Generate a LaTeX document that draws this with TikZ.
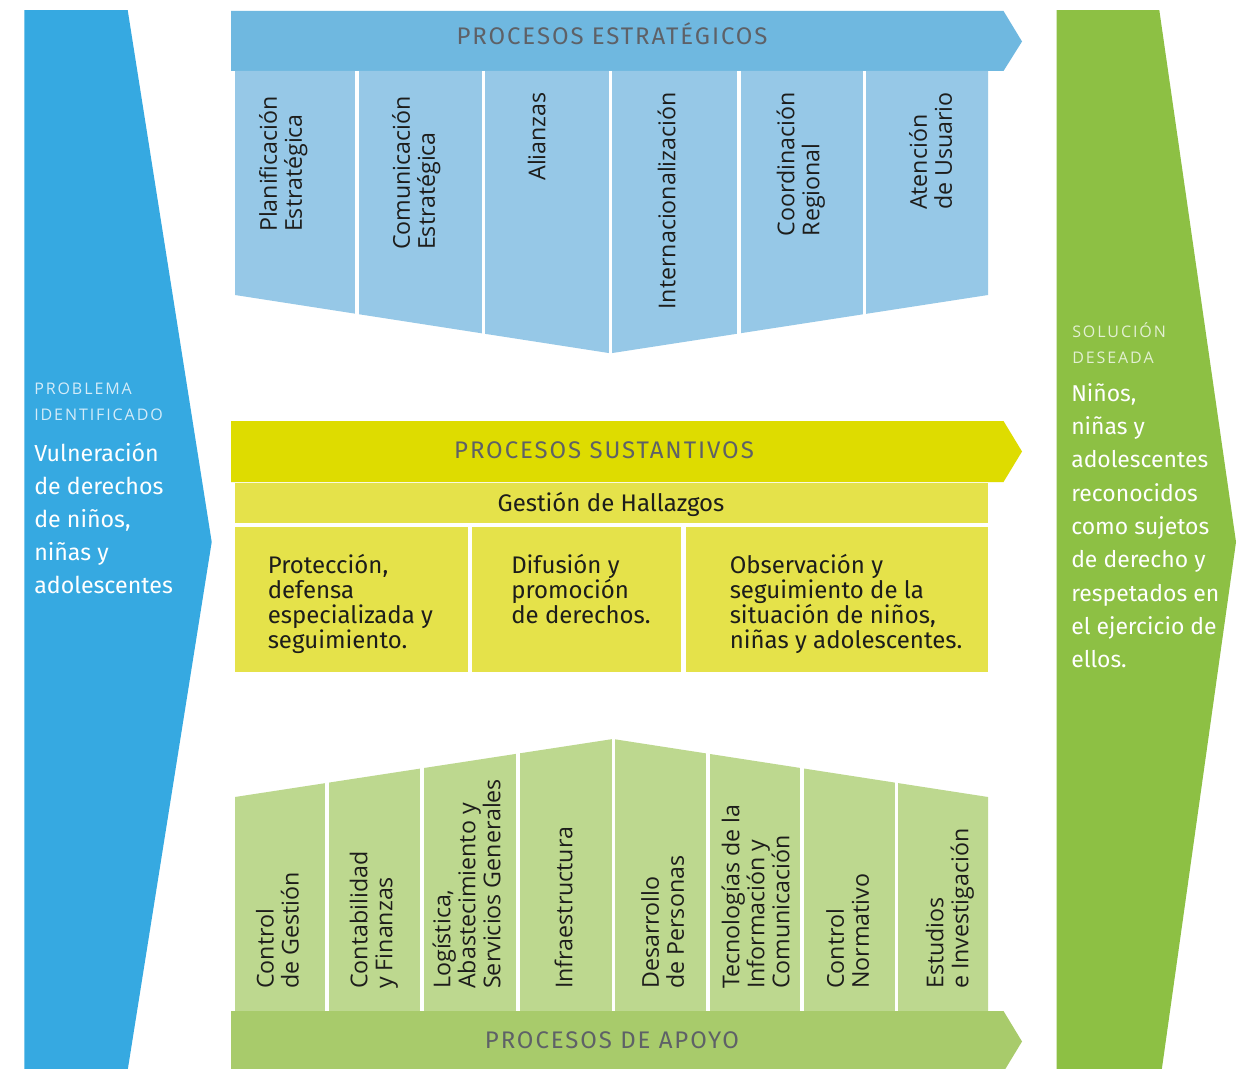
\documentclass[tikz,border=0pt]{standalone}
\usepackage{fontspec}
\setmainfont{Fira Sans}
\newfontfamily\colfont{Open Sans}
\newfontfamily\labfont[LetterSpace=12]{Open Sans}
\newfontfamily\titlefont[LetterSpace=8]{Fira Sans}
\definecolor{leftblue}{HTML}{36A9E1}
\definecolor{rightgreen}{HTML}{8DC044}
\definecolor{bannerblue}{HTML}{6FB8E0}
\definecolor{colblue}{HTML}{96C8E7}
\definecolor{banneryellow}{HTML}{DEDC00}
\definecolor{boxyellow}{HTML}{E5E24A}
\definecolor{bannergreen}{HTML}{A8CB6B}
\definecolor{colgreen}{HTML}{BDD88F}
\definecolor{titlegray}{HTML}{5E6167}
\definecolor{darktxt}{HTML}{1D1D1B}
\definecolor{lablight}{HTML}{D4ECF9}
\definecolor{labgreen}{HTML}{E3F0D3}
\begin{document}
\begin{tikzpicture}[x=0.75pt,y=-0.75pt,
  coltxt/.style={font=\colfont\fontsize{17.4}{18.75}\selectfont, text=darktxt, inner sep=0pt, align=left, rotate=90},
  titletxt/.style={font=\titlefont\fontsize{18}{20}\selectfont, text=titlegray, inner sep=0pt},
  boxtxt/.style={font=\fontsize{18}{18.75}\selectfont, text=darktxt, inner sep=0pt, align=left},
  sidetxt/.style={inner sep=0pt, align=left},
  gap/.style={draw=white, line width=2.8pt}]
\useasboundingbox (0,0) rectangle (1255,1069);
\fill[white] (0,0) rectangle (1255,1069);

% side arrows
\fill[leftblue] (24.3,10.2) -- (127.7,10.2) -- (211.7,542) -- (127.7,1070) -- (24.3,1070) -- cycle;
\fill[rightgreen] (1056.7,10.2) -- (1159.3,10.2) -- (1236,542) -- (1161.7,1070) -- (1056.7,1070) -- cycle;

% strategic
\fill[bannerblue] (231,11) -- (1003.5,11) -- (1022,41.5) -- (1003.5,71) -- (231,71) -- cycle;
\fill[colblue] (235,71) -- (988,71) -- (988,295) -- (610.5,353.3) -- (235,295) -- cycle;
\foreach \g in {357,483.4,610.5,738.9,864.4} \draw[gap] (\g,71) -- (\g,362);

% substantive
\fill[banneryellow] (231,421) -- (1003.5,421) -- (1022,451.5) -- (1003.5,482) -- (231,482) -- cycle;
\fill[boxyellow] (235,483) rectangle (988,522.7);
\fill[boxyellow] (235,526.7) rectangle (467.8,671.7);
\fill[boxyellow] (471.6,526.7) rectangle (681.2,671.7);
\fill[boxyellow] (685.5,526.7) rectangle (988,671.7);

% support
\fill[colgreen] (235,797) -- (613,739) -- (988,797) -- (988,1011) -- (235,1011) -- cycle;
\foreach \g in {326.7,421.8,518.2,613.4,708.2,801.8,896.6} \draw[gap] (\g,730) -- (\g,1011);
\fill[bannergreen] (231,1011) -- (1003.5,1011) -- (1022,1041.5) -- (1003.5,1072) -- (231,1072) -- cycle;

% titles
\node[titletxt, anchor=base] (tEst) at (612,45) {PROCESOS ESTRATÉGICOS};
\node[titletxt, anchor=base] (tSus) at (604,458.3) {PROCESOS SUSTANTIVOS};
\node[titletxt, anchor=base] (tApo) at (612,1048.3) {PROCESOS DE APOYO};

% strategic columns
\node[coltxt, anchor=north east] (e1) at (256.7,96) {\rule{0pt}{15pt}Planificación\\Estratégica};
\node[coltxt, anchor=north east] (e2) at (389.7,96) {\rule{0pt}{15pt}Comunicación\\Estratégica};
\node[coltxt, anchor=north east] (e3) at (525,92) {\rule{0pt}{15pt}Alianzas};
\node[coltxt, anchor=north east] (e4) at (655,92) {\rule{0pt}{15pt}Internacionalización};
\node[coltxt, anchor=north east] (e5) at (774,92) {\rule{0pt}{15pt}Coordinación\\Regional};
\node[coltxt, anchor=north east] (e6) at (906.5,92) {\rule{0pt}{15pt}Atención\\de Usuario};

% substantive boxes
\node[boxtxt, anchor=base] (gh) at (611,511.7) {Gestión de Hallazgos};
\node[boxtxt, anchor=north west] (b1) at (267.5,553.3) {\rule{0pt}{15pt}Protección,\\defensa\\especializada y\\seguimiento.};
\node[boxtxt, anchor=north west] (b2) at (511,553.3) {\rule{0pt}{15pt}Difusión y\\promoción\\de derechos.};
\node[boxtxt, anchor=north west] (b3) at (729.5,553.3) {\rule{0pt}{15pt}Observación y\\seguimiento de la\\situación de niños,\\niñas y adolescentes.};

% support columns
\node[coltxt, anchor=north west] (a1) at (253.3,989) {\rule{0pt}{15pt}Control\\de Gestión};
\node[coltxt, anchor=north west] (a2) at (347,989) {\rule{0pt}{15pt}Contabilidad\\y Finanzas};
\node[coltxt, anchor=north west] (a3) at (430,989) {\rule{0pt}{15pt}Logística,\\Abastecimiento y\\Servicios Generales};
\node[coltxt, anchor=north west] (a4) at (552,989) {\rule{0pt}{15pt}Infraestructura};
\node[coltxt, anchor=north west] (a5) at (638.7,989) {\rule{0pt}{15pt}Desarrollo\\de Personas};
\node[coltxt, anchor=north west] (a6) at (719,989) {\rule{0pt}{15pt}Tecnologías de la\\Información y\\Comunicación};
\node[coltxt, anchor=north west] (a7) at (823.7,989) {\rule{0pt}{15pt}Control\\Normativo};
\node[coltxt, anchor=north west] (a8) at (923,989) {\rule{0pt}{15pt}Estudios\\e Investigación};

% side texts
\node[sidetxt, anchor=north west, text=lablight, font=\labfont\fontsize{12}{19.5}\selectfont] (pl) at (34,374) {\rule{0pt}{15pt}PROBLEMA\\IDENTIFICADO};
\node[sidetxt, anchor=north west, text=white, font=\fontsize{17.4}{24.6}\selectfont] (pt) at (34,441.7) {\rule{0pt}{15pt}Vulneración\\de derechos\\de niños,\\niñas y\\adolescentes};
\node[sidetxt, anchor=north west, text=labgreen, font=\labfont\fontsize{12}{19.2}\selectfont] (sl) at (1072,317.7) {\rule{0pt}{15pt}SOLUCIÓN\\DESEADA};
\node[sidetxt, anchor=north west, text=white, font=\fontsize{17.2}{25}\selectfont] (st) at (1071,381) {\rule{0pt}{15pt}Niños,\\niñas y\\adolescentes\\reconocidos\\como sujetos\\de derecho y\\respetados en\\el ejercicio de\\ellos.};
\end{tikzpicture}
\end{document}
